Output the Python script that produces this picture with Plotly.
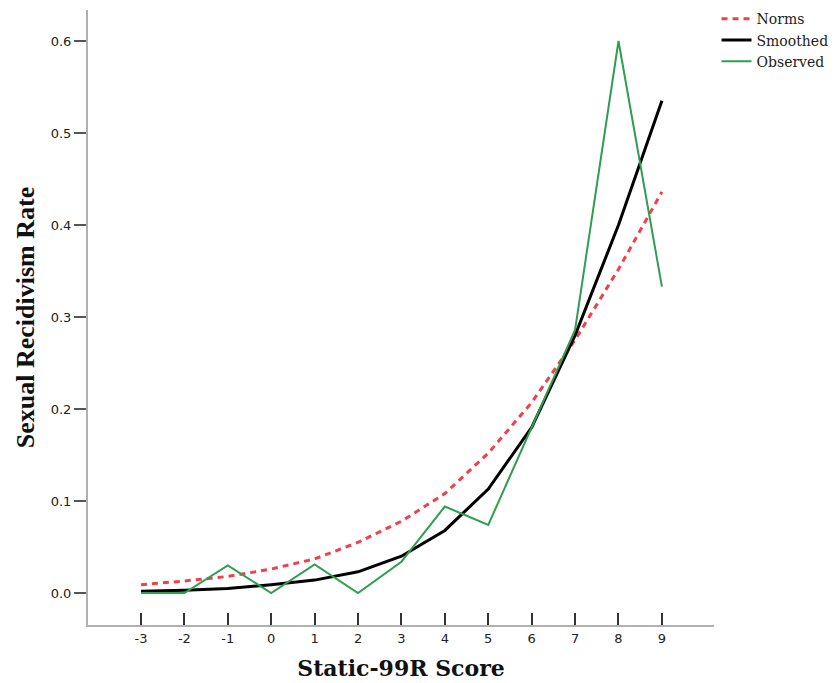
import plotly.graph_objects as go

scores = [-3, -2, -1, 0, 1, 2, 3, 4, 5, 6, 7, 8, 9]
norms = [0.009, 0.013, 0.018, 0.026, 0.037, 0.055, 0.078, 0.108, 0.152, 0.207, 0.275, 0.352, 0.436]
smoothed = [0.002, 0.003, 0.005, 0.009, 0.014, 0.023, 0.040, 0.068, 0.113, 0.180, 0.280, 0.400, 0.535]
observed = [0.0, 0.0, 0.030, 0.0, 0.031, 0.0, 0.034, 0.094, 0.074, 0.180, 0.286, 0.600, 0.333]
y_ticks = [0.0, 0.1, 0.2, 0.3, 0.4, 0.5, 0.6]

fig = go.Figure()
fig.add_trace(go.Scatter(x=scores, y=norms, mode="lines", name="Norms",
                         line=dict(color="#f2404a", width=3, dash="6px,5px")))
fig.add_trace(go.Scatter(x=scores, y=smoothed, mode="lines", name="Smoothed",
                         line=dict(color="#000000", width=3)))
fig.add_trace(go.Scatter(x=scores, y=observed, mode="lines", name="Observed",
                         line=dict(color="#2e9e50", width=2)))

fig.update_layout(
    width=837, height=683,
    margin=dict(l=88, r=123, t=10, b=58, autoexpand=False),
    paper_bgcolor="white", plot_bgcolor="white",
    showlegend=True,
    legend=dict(x=1.004, y=1.011, xanchor="left", yanchor="top",
                font=dict(family="DejaVu Serif", size=14, color="#222"),
                tracegroupgap=0, itemwidth=30, bgcolor="rgba(0,0,0,0)"),
    xaxis=dict(
        range=[-4.22, 10.2], tickmode="array", tickvals=scores,
        ticktext=[str(s) for s in scores],
        showgrid=False, zeroline=False,
        showline=True, linecolor="#b0b0b0", linewidth=2,
        ticks="inside", ticklen=12, tickwidth=2, tickcolor="#333",
        tickfont=dict(family="DejaVu Sans", size=13, color="#222"),
        title=dict(text="<b>Static-99R Score</b>", standoff=16,
                   font=dict(family="DejaVu Serif", size=22, color="#111")),
    ),
    yaxis=dict(
        range=[-0.0348, 0.6337], tickmode="array", tickvals=y_ticks,
        ticktext=["0.0", "0.1", "0.2", "0.3", "0.4", "0.5", "0.6"],
        showgrid=False, zeroline=False,
        showline=True, linecolor="#b0b0b0", linewidth=2,
        ticks="outside", ticklen=12, tickwidth=2, tickcolor="#555",
        tickfont=dict(family="DejaVu Sans", size=13, color="#222"),
        title=dict(text="<b>Sexual Recidivism Rate</b>", standoff=9,
                   font=dict(family="Liberation Serif", size=26, color="#111")),
    ),
)

fig.write_html("out.html")
